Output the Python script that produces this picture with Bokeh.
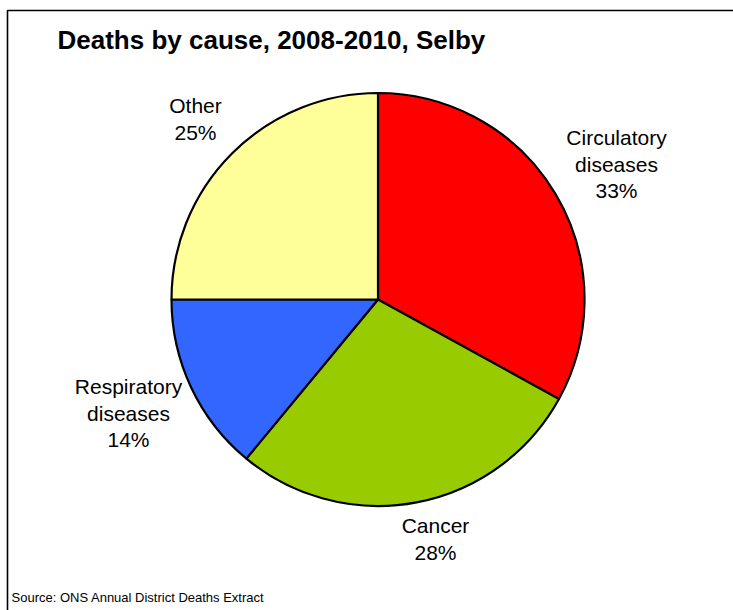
from math import pi

from bokeh.core.properties import value
from bokeh.embed import file_html
from bokeh.models import ColumnDataSource, Range1d
from bokeh.plotting import figure
from bokeh.resources import INLINE

# Deaths by cause, Selby 2008-2010 (percent of all deaths)
causes = ["Circulatory diseases", "Cancer", "Respiratory diseases", "Other"]
shares = [33, 28, 14, 25]
colors = ["#FF0000", "#99CC00", "#3366FF", "#FFFF99"]

title_text = "Deaths by cause, 2008-2010, Selby"
source_text = "Source: ONS Annual District Deaths Extract"

W, H = 733, 610
FONT = "Liberation Sans"

# Pie geometry in page pixels (y measured from the top)
cx, cy, radius = 377.5, 299, 206.5

# Label anchors (centre x, vertical middle of first line) per slice
label_anchor = {
    "Circulatory diseases": (616, 137),
    "Cancer": (435, 525),
    "Respiratory diseases": (128, 386),
    "Other": (195, 105),
}
line_gap = 26.5

p = figure(width=W, height=H, output_backend="svg", toolbar_location=None,
           x_range=Range1d(0, W), y_range=Range1d(0, H), min_border=0,
           outline_line_color=None, background_fill_color="white",
           border_fill_color="white")
p.axis.visible = False
p.grid.visible = False


def Y(y):
    return H - y


# Wedges: start at 12 o'clock and run clockwise
total = float(sum(shares))
starts, ends = [], []
cum = 0.0
for s in shares:
    a0 = pi / 2 - 2 * pi * (cum + s) / total
    a1 = pi / 2 - 2 * pi * cum / total
    starts.append(a0)
    ends.append(a1)
    cum += s

wedges = ColumnDataSource(dict(start=starts, end=ends, color=colors,
                               cause=causes, share=shares))
p.wedge(x=cx, y=Y(cy), radius=radius, start_angle="start", end_angle="end",
        fill_color="color", line_color="black", line_width=2.2, source=wedges)

# Slice labels: words of the cause name on separate lines, then the share
lx, ly, lt = [], [], []
for cause, share in zip(causes, shares):
    x0, y0 = label_anchor[cause]
    lines = cause.split(" ") + [f"{share}%"]
    for i, t in enumerate(lines):
        lx.append(x0)
        ly.append(Y(y0 + i * line_gap))
        lt.append(t)
p.text(x=lx, y=ly, text=lt, text_font=value(FONT), text_font_size="21px",
       text_align="center", text_baseline="middle", text_color="black")

# Title and source note
p.text(x=[57], y=[Y(39.5)], text=[title_text], text_font=value(FONT),
       text_font_size="26px", text_font_style="bold", text_align="left",
       text_baseline="middle", text_color="black")
p.text(x=[11], y=[Y(597)], text=[source_text], text_font=value(FONT),
       text_font_size="13px", text_align="left", text_baseline="middle",
       text_color="black")

# Chart frame (left and top edges fall inside the page)
p.quad(left=[7], right=[W + 20], top=[Y(10)], bottom=[-20],
       fill_color=None, line_color="black", line_width=1.6)

open("out.html", "w").write(file_html(p, INLINE))
